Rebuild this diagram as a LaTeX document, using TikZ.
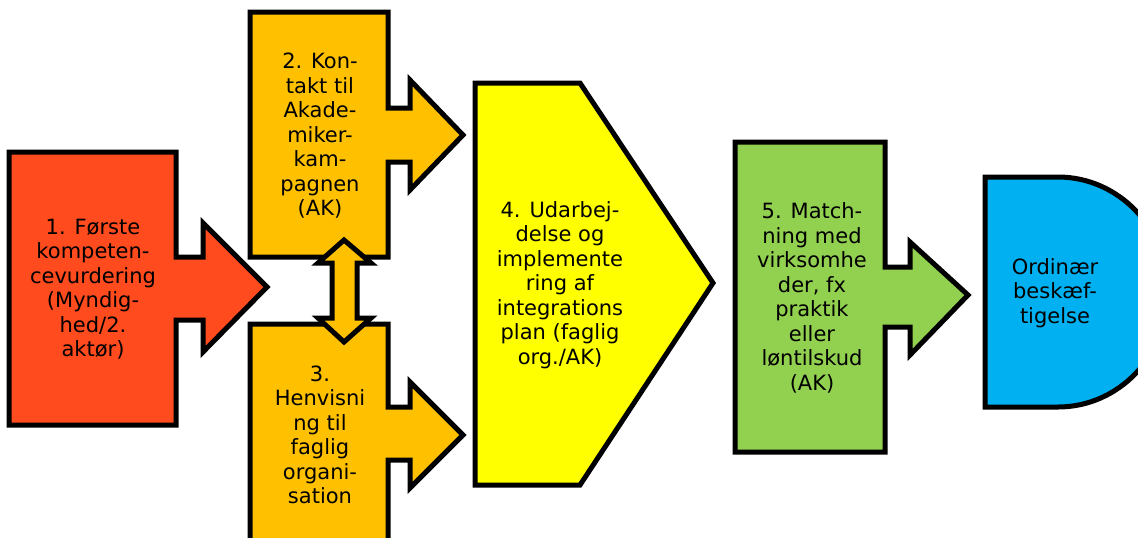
\documentclass[tikz,border=0pt]{standalone}
\usepackage{fontspec}
\setmainfont{DejaVu Sans}
\definecolor{stepred}{HTML}{FF4B1E}
\definecolor{stepamber}{HTML}{FFC000}
\definecolor{stepyellow}{HTML}{FFFF00}
\definecolor{stepgreen}{HTML}{92D050}
\definecolor{stepblue}{HTML}{00B0F0}
\tikzset{
  block/.style={draw=black, line width=2.5pt, miter limit=4},
  label/.style={align=center, font=\fontsize{10.5}{12.25}\selectfont}
}
\begin{document}
\begin{tikzpicture}[x=0.5pt,y=-0.5pt]
		\useasboundingbox (0,0) rectangle (1138,537);
		\clip (0,0) rectangle (1138,537);
		
		% 1
		\filldraw[block, fill=stepred] (9,152) -- (176,152) -- (176,257) -- (203,257) -- (203,223) -- (267,287) -- (203,352) -- (203,320) -- (176,320) -- (176,425) -- (9,425) -- cycle;
		% 2
		\filldraw[block, fill=stepamber] (250,12) -- (388,12) -- (388,108) -- (410,108) -- (410,80) -- (463,135) -- (410,190) -- (410,162) -- (388,162) -- (388,257) -- (250,257) -- cycle;
		% 3
		\filldraw[block, fill=stepamber] (250,324) -- (388,324) -- (388,407) -- (410,407) -- (410,382) -- (463,435) -- (410,488) -- (410,460) -- (388,460) -- (388,570) -- (250,570) -- cycle;
		% 4
		\filldraw[block, fill=stepyellow] (475,83) -- (580,83) -- (713,283) -- (580,485) -- (475,485) -- cycle;
		% 5
		\filldraw[block, fill=stepgreen] (735,142) -- (885,142) -- (885,267) -- (910,267) -- (910,242) -- (968,295) -- (910,355) -- (910,327) -- (885,327) -- (885,452) -- (735,452) -- cycle;
		% 6
		\filldraw[block, fill=stepblue] (985,177) -- (1058,177) arc[start angle=-90, end angle=90, x radius=110, y radius=115] -- (985,407) -- cycle;
		
		% 2 <-> 3
		\filldraw[block, fill=stepamber] (344,240) -- (371,263) -- (357,263) -- (357,318) -- (371,318) -- (344,342) -- (318,318) -- (332,318) -- (332,263) -- (318,263) -- cycle;
		
		\node[label] (first) at (93,289) {1. Første\\kompeten-\\cevurdering\\(Myndig-\\hed/2.\\aktør)};
		\node[label] (contact) at (320,136) {2. Kon-\\takt til\\Akade-\\miker-\\kam-\\pagnen\\(AK)};
		\node[label] (referral) at (320,435) {3.\\Henvisni\\ng til\\faglig\\organi-\\sation};
		\node[label] (plan) at (560,285) {4. Udarbej-\\delse og\\implemente\\ring af\\integrations\\plan (faglig\\org./AK)};
		\node[label] (match) at (812,298) {5. Match-\\ning med\\virksomhe\\der, fx\\praktik\\eller\\løntilskud\\(AK)};
		\node[label] (job) at (1055,293) {Ordinær\\beskæf-\\tigelse};
	\end{tikzpicture}
\end{document}
